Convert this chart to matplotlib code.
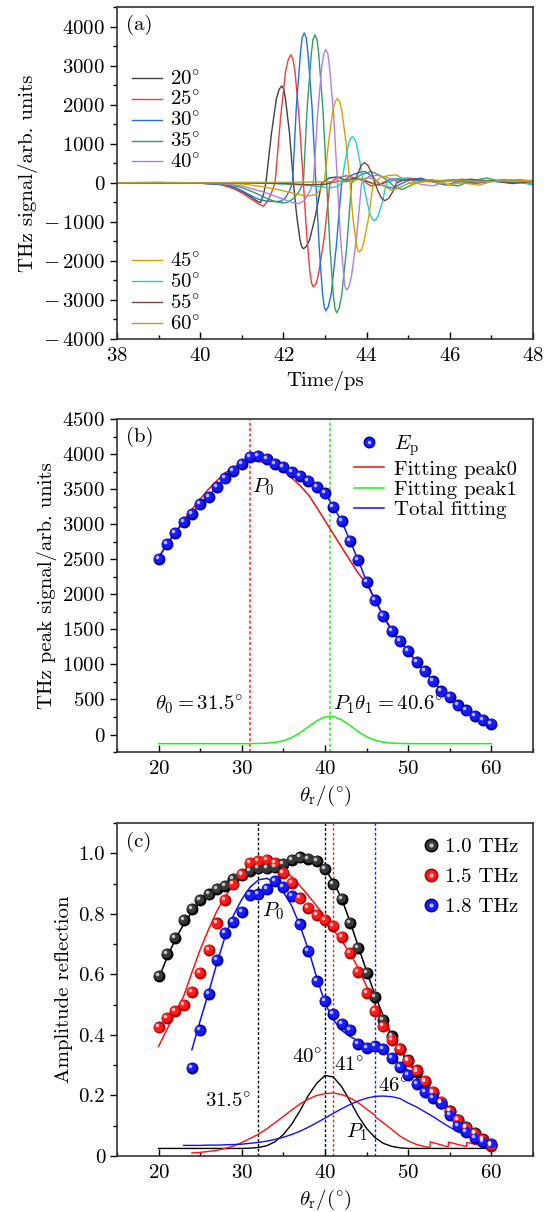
import matplotlib
matplotlib.use("Agg")
import matplotlib.pyplot as plt
from matplotlib.lines import Line2D
from matplotlib.ticker import MultipleLocator, FuncFormatter
from matplotlib.transforms import offset_copy
from matplotlib.legend_handler import HandlerTuple

plt.rcParams["font.family"] = "serif"
plt.rcParams["font.serif"] = ["cmr10"]
plt.rcParams["mathtext.fontset"] = "cm"
plt.rcParams["axes.formatter.use_mathtext"] = True
plt.rcParams["font.size"] = 15

# ------------------------------------------------------------
# (a) THz time-domain signals for each incidence angle
# ------------------------------------------------------------
t20 = [38.0, 39.0, 40.0, 40.5, 40.8, 41.0, 41.2, 41.35, 41.45, 41.52, 41.58, 41.71, 41.83, 41.90, 41.96,
       42.01, 42.05, 42.15, 42.24, 42.32, 42.40, 42.44, 42.48, 42.55, 42.63, 42.77, 42.92, 43.1, 43.3,
       43.5, 43.7, 43.9, 44.1, 44.3, 44.5, 44.8, 45.2, 45.6, 46.0, 46.5, 47.0, 47.5, 48.0]
s20 = [0, 5, -10, -40, -120, -220, -350, -460, -510, -300, 0, 1240, 2147, 2395, 2479,
       2395, 2147, 1240, 0, -845, -1464, -1633, -1690, -1633, -1464, -845, 0, 120, 150,
       60, 120, 80, 0, -60, 40, 80, 100, 60, 50, 90, 40, 80, 50]

t25 = [38.0, 39.0, 40.0, 40.5, 40.8, 41.0, 41.2, 41.4, 41.52, 41.62, 41.71, 41.80, 41.93, 42.05, 42.12,
       42.18, 42.23, 42.28, 42.38, 42.48, 42.56, 42.64, 42.68, 42.72, 42.79, 42.85, 42.99, 43.12,
       43.3, 43.52, 43.7, 43.9, 44.1, 44.3, 44.6, 45.0, 45.4, 45.8, 46.3, 46.8, 47.3, 47.8, 48.0]
s25 = [0, -5, -10, -50, -150, -260, -400, -540, -600, -470, -260, 0, 1639, 2839, 3167,
       3278, 3167, 2839, 1639, 0, -1334, -2310, -2576, -2667, -2576, -2310, -1334, 0,
       130, 180, 130, 60, -80, -40, 100, 120, 80, 40, 90, 30, 80, 40, 60]

t30 = [38.0, 39.0, 40.0, 40.5, 40.8, 41.0, 41.2, 41.4, 41.6, 41.8, 41.95, 42.05, 42.14, 42.22, 42.31,
       42.41, 42.45, 42.50, 42.55, 42.59, 42.69, 42.78, 42.86, 42.94, 42.98, 43.02, 43.08, 43.15,
       43.27, 43.40, 43.6, 43.8, 43.96, 44.15, 44.3, 44.5, 44.64, 44.8, 45.0, 45.3, 45.6, 45.9,
       46.2, 46.6, 47.0, 47.5, 48.0]
s30 = [0, 5, -10, -40, -110, -200, -320, -420, -470, -480, -470, -380, -220, 0, 1920,
       3325, 3708, 3839, 3708, 3325, 1920, 0, -1639, -2839, -3167, -3278, -3167, -2839,
       -1639, 0, 180, 260, 290, 150, -30, -110, -136, -40, 60, 120, 20, -60,
       30, -20, 40, 0, 30]

t35 = [38.0, 39.0, 40.0, 40.5, 41.0, 41.3, 41.6, 41.8, 41.96, 42.1, 42.25, 42.38, 42.48, 42.57, 42.67,
       42.71, 42.76, 42.81, 42.85, 42.95, 43.04, 43.12, 43.20, 43.24, 43.28, 43.34, 43.40, 43.52,
       43.64, 43.85, 44.1, 44.3, 44.5, 44.7, 44.85, 45.0, 45.3, 45.6, 45.9, 46.2, 46.5, 46.9,
       47.2, 47.6, 48.0]
s35 = [0, 0, -5, -20, -120, -250, -400, -480, -518, -500, -400, -220, 0, 1894, 3280,
       3659, 3788, 3659, 3280, 1894, 0, -1665, -2884, -3217, -3330, -3217, -2884, -1665,
       0, 200, 290, 200, 60, -130, -170, -100, 60, 60, -40, -80, 50, 120,
       40, 30, -40]

t40 = [38.0, 39.0, 40.0, 40.5, 41.0, 41.5, 41.9, 42.2, 42.37, 42.5, 42.62, 42.72, 42.82, 42.92, 42.97,
       43.02, 43.07, 43.11, 43.21, 43.30, 43.37, 43.45, 43.48, 43.52, 43.58, 43.64, 43.76, 43.88,
       44.05, 44.25, 44.45, 44.7, 45.0, 45.3, 45.6, 45.9, 46.2, 46.6, 47.0, 47.5, 48.0]
s40 = [0, 0, -5, -20, -80, -230, -380, -500, -535, -460, -250, 0, 1707, 2957, 3298,
       3414, 3298, 2957, 1707, 0, -1372, -2376, -2651, -2744, -2651, -2376, -1372, 0,
       160, 190, 150, 40, 90, -40, -80, 30, 60, 0, 50, 70, 30]

t45 = [38.0, 39.0, 40.0, 40.5, 41.0, 41.5, 41.9, 42.2, 42.45, 42.64, 42.78, 42.88, 42.98, 43.09, 43.19,
       43.25, 43.30, 43.35, 43.40, 43.50, 43.60, 43.67, 43.75, 43.78, 43.82, 43.88, 43.93, 44.05,
       44.16, 44.35, 44.55, 44.72, 44.9, 45.1, 45.4, 45.7, 46.0, 46.3, 46.7, 47.0, 47.5, 48.0]
s45 = [0, 0, 0, -10, -30, -100, -180, -260, -320, -331, -300, -180, 0, 1079, 1868,
       2084, 2157, 2084, 1868, 1079, 0, -888, -1537, -1715, -1775, -1715, -1537, -888,
       0, 140, 190, 200, 80, -40, 30, 20, -50, 0, -60, 30, 80, 40]

t50 = [38.0, 39.0, 40.0, 41.0, 41.5, 42.0, 42.5, 42.9, 43.15, 43.3, 43.40, 43.49, 43.57, 43.62, 43.66,
       43.70, 43.75, 43.83, 43.92, 44.01, 44.09, 44.14, 44.18, 44.23, 44.28, 44.38, 44.48, 44.65,
       44.9, 45.2, 45.5, 45.8, 46.2, 46.6, 47.0, 47.5, 48.0]
s50 = [0, 0, 0, -5, -10, -30, -60, -100, -130, -90, 0, 590, 1022, 1140, 1180,
       1140, 1022, 590, 0, -484, -838, -935, -968, -935, -838, -484, 0, 100,
       110, 60, 80, 30, 70, 20, 60, 40, -50]

t55 = [38.0, 40.0, 41.0, 42.0, 42.6, 43.0, 43.3, 43.5, 43.72, 43.80, 43.87, 43.95, 44.03, 44.12, 44.20,
       44.28, 44.36, 44.44, 44.53, 44.63, 44.72, 44.9, 45.2, 45.6, 46.0, 46.5, 47.0, 47.5, 48.0]
s55 = [0, 0, 0, -20, -50, -40, 40, 30, 80, 259, 449, 518, 449, 259, 0,
       -230, -398, -459, -398, -230, 0, 70, 80, 40, 70, 20, 50, -20, 30]

t60 = [38.0, 39.0, 40.0, 41.0, 42.0, 42.8, 43.3, 43.7, 43.9, 44.05, 44.2, 44.35, 44.6, 44.8, 45.0,
       45.3, 45.6, 46.0, 46.5, 47.0, 47.5, 48.0]
s60 = [0, 10, 0, 10, 10, 20, 30, 60, 110, 130, 80, -40, -196, -120, -20,
       40, 50, 60, 40, 30, 60, 20]

wave_labels = ["20", "25", "30", "35", "40", "45", "50", "55", "60"]
wave_colors = ["#404040", "#f23c3c", "#2270e4", "#2ca062", "#b27ee6",
               "#d8a200", "#1fcfcf", "#7a4545", "#aea22c"]

# ------------------------------------------------------------
# (b) peak signal vs angle
# ------------------------------------------------------------
theta_b = list(range(20, 61))
ep = [2500, 2724, 2876, 3033, 3152, 3281, 3390, 3533, 3652, 3762, 3857, 3962, 3971, 3930, 3860,
      3820, 3748, 3686, 3614, 3533, 3438, 3248, 3043, 2762, 2486, 2176, 1914, 1686, 1476, 1333,
      1190, 1033, 900, 757, 614, 533, 414, 343, 271, 210, 152]
fit_peak0 = [2530, 2700, 2880, 3050, 3210, 3360, 3500, 3620, 3730, 3810, 3870, 3900, 3900, 3870, 3820,
             3760, 3660, 3550, 3420, 3240, 3050, 2860, 2670, 2485, 2300, 2150, 1930, 1700, 1500, 1330,
             1180, 1030, 895, 760, 630, 530, 425, 345, 275, 210, 150]
fit_total = [2520, 2720, 2880, 3030, 3160, 3285, 3400, 3530, 3650, 3760, 3855, 3940, 3950, 3920, 3865,
             3815, 3750, 3685, 3612, 3532, 3440, 3250, 3040, 2765, 2485, 2180, 1915, 1690, 1480, 1330,
             1190, 1035, 900, 760, 625, 530, 420, 343, 272, 210, 152]
theta_p1 = [20, 25, 30, 31, 32, 33, 34, 35, 36, 37, 38, 39, 40, 40.6, 41, 42, 43, 44, 45, 46, 47,
            48, 49, 50, 55, 60]
fit_peak1 = [-130, -130, -130, -130, -128, -124, -112, -89, -44, 24, 111, 195, 250, 260, 256, 209, 129,
             41, -32, -81, -109, -122, -127, -130, -130, -130]
theta0_b = 31.0
theta1_b = 40.6

# ------------------------------------------------------------
# (c) amplitude reflection at three frequencies
# ------------------------------------------------------------
theta_c = list(range(20, 61))
r10 = [0.594, 0.668, 0.721, 0.779, 0.817, 0.845, 0.864, 0.881, 0.892, 0.916, 0.927, 0.941, 0.950, 0.950,
       0.953, 0.964, 0.978, 0.986, 0.982, 0.975, 0.947, 0.897, 0.848, 0.771, 0.688, 0.605, 0.526, 0.450,
       0.395, 0.353, 0.318, 0.279, 0.246, 0.208, 0.174, 0.147, 0.119, 0.097, 0.075, 0.053, 0.036]
r15 = [0.425, 0.456, 0.478, 0.500, 0.541, 0.605, 0.680, 0.768, 0.845, 0.897, 0.930, 0.967, 0.975, 0.977,
       0.969, 0.936, 0.901, 0.851, 0.820, 0.796, 0.779, 0.759, 0.724, 0.671, 0.607, 0.540, 0.478, 0.428,
       0.384, 0.353, 0.315, 0.283, 0.249, 0.213, 0.180, 0.147, 0.119, 0.094, 0.073, 0.055, 0.033]
theta_c18 = list(range(24, 61))
r18 = [0.290, 0.415, 0.536, 0.647, 0.737, 0.773, 0.807, 0.861, 0.864, 0.883, 0.908, 0.890, 0.859, 0.765,
       0.677, 0.577, 0.511, 0.470, 0.436, 0.417, 0.370, 0.357, 0.362, 0.354, 0.323, 0.294, 0.268, 0.237,
       0.213, 0.191, 0.174, 0.136, 0.100, 0.080, 0.059, 0.047, 0.039]

fit10 = [0.585, 0.655, 0.715, 0.765, 0.805, 0.838, 0.864, 0.885, 0.902, 0.916, 0.928, 0.938, 0.945, 0.950,
         0.955, 0.962, 0.970, 0.977, 0.978, 0.970, 0.948, 0.905, 0.850, 0.775, 0.692, 0.610, 0.533, 0.462,
         0.400, 0.350, 0.308, 0.272, 0.240, 0.208, 0.178, 0.150, 0.123, 0.098, 0.076, 0.056, 0.038]
fit15 = [0.362, 0.418, 0.473, 0.527, 0.606, 0.682, 0.748, 0.809, 0.857, 0.897, 0.927, 0.949, 0.961, 0.964,
         0.959, 0.947, 0.922, 0.892, 0.860, 0.826, 0.788, 0.748, 0.710, 0.671, 0.620, 0.560, 0.500, 0.445,
         0.398, 0.354, 0.316, 0.281, 0.248, 0.214, 0.181, 0.149, 0.120, 0.094, 0.071, 0.052, 0.035]
fit18 = [0.351, 0.447, 0.539, 0.636, 0.726, 0.795, 0.848, 0.888, 0.912, 0.917, 0.905, 0.872, 0.826, 0.760,
         0.682, 0.590, 0.505, 0.450, 0.415, 0.395, 0.380, 0.368, 0.357, 0.347, 0.328, 0.304, 0.283, 0.258,
         0.232, 0.210, 0.185, 0.158, 0.128, 0.100, 0.075, 0.055, 0.038]

p1_10 = [0.025, 0.025, 0.025, 0.025, 0.025, 0.025, 0.025, 0.025, 0.025, 0.025, 0.025, 0.026, 0.028, 0.034,
         0.047, 0.071, 0.105, 0.150, 0.200, 0.240, 0.266, 0.261, 0.229, 0.182, 0.132, 0.091, 0.061, 0.042,
         0.032, 0.027, 0.025, 0.025, 0.025, 0.025, 0.025, 0.025, 0.025, 0.025, 0.025, 0.025, 0.025]
theta_p15 = [24, 25, 26, 27, 28, 29, 30, 31, 32, 33, 34, 35, 36, 37, 38, 39, 40, 41, 42, 43, 44, 45, 46,
             46.1, 47, 48, 49, 50, 51, 52, 52.6, 52.65, 54.8, 54.85, 57.0, 57.05, 59.0, 59.05, 60]
p1_15 = [0.010, 0.012, 0.015, 0.019, 0.025, 0.033, 0.044, 0.058, 0.072, 0.090, 0.110, 0.131, 0.152, 0.172,
         0.188, 0.200, 0.206, 0.208, 0.203, 0.192, 0.176, 0.155, 0.135, 0.128, 0.110, 0.088, 0.066, 0.050,
         0.038, 0.031, 0.028, 0.047, 0.030, 0.046, 0.031, 0.045, 0.032, 0.043, 0.034]
theta_p18 = list(range(23, 61))
p1_18 = [0.035, 0.035, 0.035, 0.036, 0.036, 0.037, 0.038, 0.039, 0.042, 0.045, 0.049, 0.055, 0.062, 0.071,
         0.082, 0.095, 0.110, 0.125, 0.141, 0.156, 0.170, 0.182, 0.191, 0.197, 0.198, 0.196, 0.190, 0.175,
         0.162, 0.146, 0.130, 0.112, 0.095, 0.080, 0.066, 0.055, 0.046, 0.040]

vlines_c = [32.0, 40.0, 41.0, 46.0]
vline_colors_c = ["black", "black", "#ff2020", "#2020ff"]


def int_label(v, pos):
    # LaTeX-like minus with a little gap, as in the original figure
    if v < 0:
        return r"$-\,%d$" % abs(int(round(v)))
    return r"$%d$" % int(round(v))


def style_axes(ax):
    for spine in ax.spines.values():
        spine.set_linewidth(1.2)
        spine.set_color("#333333")
    ax.tick_params(axis="x", which="both", direction="in", top=False, pad=6)
    ax.tick_params(axis="x", which="major", length=5, width=1)
    ax.tick_params(axis="x", which="minor", length=3, width=1)
    ax.tick_params(axis="y", which="both", direction="out", right=False)
    ax.tick_params(axis="y", which="major", length=5, width=1)
    ax.tick_params(axis="y", which="minor", length=3, width=1)


def draw_balls(ax, x, y, color, shade, size=8.6):
    ax.plot(x, y, "o", ms=size, color=shade, mec="none", ls="none", zorder=4)
    off1 = offset_copy(ax.transData, fig=ax.figure, x=-0.8, y=0.8, units="dots")
    ax.plot(x, y, "o", ms=size * 0.78, color=color, mec="none", ls="none", transform=off1, zorder=5)
    off2 = offset_copy(ax.transData, fig=ax.figure, x=-2.0, y=2.0, units="dots")
    ax.plot(x, y, "o", ms=size * 0.3, color="white", alpha=0.7, mec="none", ls="none",
            transform=off2, zorder=6)


def ball_handle(color, shade, size=8.6):
    return (Line2D([], [], marker="o", ls="none", ms=size, color=shade, mec="none"),
            Line2D([], [], marker="o", ls="none", ms=size * 0.78, color=color, mec="none"),
            Line2D([], [], marker="o", ls="none", ms=size * 0.3, color="white", alpha=0.7, mec="none"))


def main():
    fig = plt.figure(figsize=(5.47, 12.12), dpi=100)
    ax_a = fig.add_axes([0.2139, 0.7203, 0.7605, 0.2739])
    ax_b = fig.add_axes([0.2139, 0.3795, 0.7605, 0.2748])
    ax_c = fig.add_axes([0.2139, 0.0462, 0.7605, 0.2748])

    # ---------------- panel (a) ----------------
    waves_t = [t20, t25, t30, t35, t40, t45, t50, t55, t60]
    waves_s = [s20, s25, s30, s35, s40, s45, s50, s55, s60]
    lines = []
    for t, s, lab, col in zip(waves_t, waves_s, wave_labels, wave_colors):
        ln, = ax_a.plot(t, s, color=col, lw=1.0, label=r"$%s^{\circ}$" % lab)
        lines.append(ln)
    ax_a.set_xlim(38, 48)
    ax_a.set_ylim(-4000, 4500)
    ax_a.set_xticks(range(38, 49, 2))
    ax_a.set_yticks(range(-4000, 4001, 1000))
    ax_a.yaxis.set_major_formatter(FuncFormatter(int_label))
    ax_a.xaxis.set_minor_locator(MultipleLocator(1))
    ax_a.yaxis.set_minor_locator(MultipleLocator(500))
    ax_a.set_xlabel("Time/ps")
    ax_a.set_ylabel("THz signal/arb. units")
    style_axes(ax_a)
    leg1 = ax_a.legend(handles=lines[:5], loc="upper left", bbox_to_anchor=(0.0, 0.855),
                       frameon=False, handlelength=1.45, handletextpad=0.4, labelspacing=0.08,
                       borderaxespad=0.3)
    ax_a.add_artist(leg1)
    ax_a.legend(handles=lines[5:], loc="upper left", bbox_to_anchor=(0.0, 0.305),
                frameon=False, handlelength=1.45, handletextpad=0.4, labelspacing=0.08,
                borderaxespad=0.3)
    ax_a.text(0.022, 0.945, "(a)", transform=ax_a.transAxes, va="center", ha="left")

    # ---------------- panel (b) ----------------
    ax_b.axvline(theta0_b, color="#ff2020", ls=(0, (2, 1.5)), lw=1.1, zorder=1)
    ax_b.axvline(theta1_b, color="#30e030", ls=(0, (2, 1.5)), lw=1.1, zorder=1)
    ax_b.plot(theta_p1, fit_peak1, color="#22ee22", lw=1.1, zorder=2)
    ax_b.plot(theta_b, fit_peak0, color="#ee1010", lw=1.1, zorder=2)
    ax_b.plot(theta_b, fit_total, color="#1010ee", lw=1.1, zorder=3)
    draw_balls(ax_b, theta_b, ep, "#1a1aff", "#0000a8")
    ax_b.set_xlim(15, 65)
    ax_b.set_ylim(-250, 4500)
    ax_b.set_xticks(range(20, 61, 10))
    ax_b.set_yticks(range(0, 4501, 500))
    ax_b.xaxis.set_minor_locator(MultipleLocator(5))
    ax_b.yaxis.set_minor_locator(MultipleLocator(250))
    ax_b.set_xlabel(r"$\theta_{\rm r}/(^{\circ})$")
    ax_b.set_ylabel("THz peak signal/arb. units")
    style_axes(ax_b)
    handles_b = [ball_handle("#1a1aff", "#0000a8"),
                 Line2D([], [], color="#ee1010", lw=1.1),
                 Line2D([], [], color="#22ee22", lw=1.1),
                 Line2D([], [], color="#1010ee", lw=1.1)]
    labels_b = [r"$E_{\rm p}$", "Fitting peak0", "Fitting peak1", "Total fitting"]
    ax_b.legend(handles_b, labels_b, loc="upper left", bbox_to_anchor=(0.535, 1.0), frameon=False,
                handlelength=1.45, handletextpad=0.45, labelspacing=0.08, borderaxespad=0.3,
                handler_map={tuple: HandlerTuple(ndivide=1)})
    ax_b.text(0.022, 0.946, "(b)", transform=ax_b.transAxes, va="center", ha="left")
    ax_b.text(32.6, 3533, r"$P_0$", ha="center", va="center")
    ax_b.text(19.6, 430, r"$\theta_0 = 31.5^{\circ}$", ha="left", va="center")
    ax_b.text(41.0, 430, r"$P_1\theta_1 = 40.6^{\circ}$", ha="left", va="center")

    # ---------------- panel (c) ----------------
    for xv, col in zip(vlines_c, vline_colors_c):
        ax_c.axvline(xv, color=col, ls=(0, (2, 1.5)), lw=1.0, zorder=1)
    ax_c.plot(theta_c, p1_10, color="black", lw=1.0, zorder=2)
    ax_c.plot(theta_p15, p1_15, color="#ff1010", lw=1.0, zorder=2)
    ax_c.plot(theta_p18, p1_18, color="#1010ff", lw=1.0, zorder=2)
    ax_c.plot(theta_c, fit10, color="black", lw=1.1, zorder=3)
    ax_c.plot(theta_c, fit15, color="#ff1010", lw=1.1, zorder=3)
    ax_c.plot(theta_c18, fit18, color="#1010ff", lw=1.1, zorder=3)
    draw_balls(ax_c, theta_c, r10, "#383838", "#000000")
    draw_balls(ax_c, theta_c, r15, "#ff1a1a", "#b00000")
    draw_balls(ax_c, theta_c18, r18, "#1a1aff", "#0000a8")
    ax_c.set_xlim(15, 65)
    ax_c.set_ylim(0, 1.1)
    ax_c.set_xticks(range(20, 61, 10))
    ax_c.set_yticks([0, 0.2, 0.4, 0.6, 0.8, 1.0])
    ax_c.yaxis.set_major_formatter(FuncFormatter(lambda v, p: "0" if abs(v) < 1e-9 else "%.1f" % v))
    ax_c.xaxis.set_minor_locator(MultipleLocator(5))
    ax_c.yaxis.set_minor_locator(MultipleLocator(0.1))
    ax_c.set_xlabel(r"$\theta_{\rm r}/(^{\circ})$")
    ax_c.set_ylabel("Amplitude reflection")
    style_axes(ax_c)
    handles_c = [ball_handle("#383838", "#000000", 10),
                 ball_handle("#ff1a1a", "#b00000", 10),
                 ball_handle("#1a1aff", "#0000a8", 10)]
    ax_c.legend(handles_c, ["1.0 THz", "1.5 THz", "1.8 THz"], loc="upper left",
                bbox_to_anchor=(0.70, 1.0), frameon=False, handlelength=0.8, handletextpad=0.25,
                labelspacing=0.55, borderaxespad=0.3,
                handler_map={tuple: HandlerTuple(ndivide=1)})
    ax_c.text(0.022, 0.943, "(c)", transform=ax_c.transAxes, va="center", ha="left")
    ax_c.text(33.75, 0.809, r"$P_0$", ha="center", va="center")
    ax_c.text(43.8, 0.08, r"$P_1$", ha="center", va="center")
    ax_c.text(28.4, 0.18, r"$31.5^{\circ}$", ha="center", va="center")
    ax_c.text(37.9, 0.325, r"$40^{\circ}$", ha="center", va="center")
    ax_c.text(42.9, 0.298, r"$41^{\circ}$", ha="center", va="center")
    ax_c.text(48.2, 0.228, r"$46^{\circ}$", ha="center", va="center")

    fig.savefig("out.png", dpi=100)
    plt.close(fig)


if __name__ == "__main__":
    main()
